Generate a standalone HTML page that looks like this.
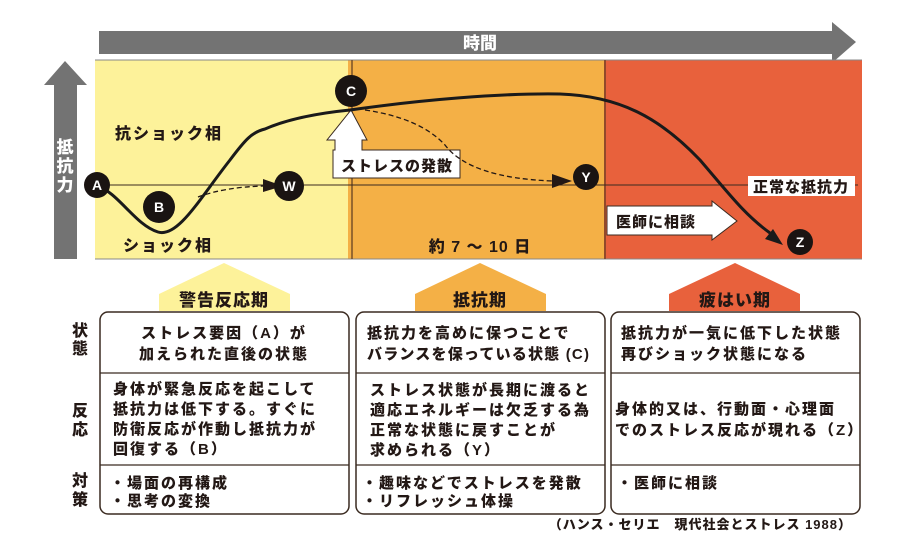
<!DOCTYPE html>
<html><head><meta charset="utf-8"><style>
html,body{margin:0;padding:0;background:#fff;}
svg{display:block;}
text{font-family:"Liberation Sans","Noto Sans CJK JP",sans-serif;font-weight:900;fill:#231815;}
.t{font-size:15px;letter-spacing:2px;}
</style></head><body>
<svg width="907" height="551" viewBox="0 0 907 551" xmlns="http://www.w3.org/2000/svg">
<polygon points="99,31 832,31 832,22 856,42 832,63 832,54 99,54" fill="#737373"/>
<text x="480" y="49" font-size="17" text-anchor="middle" style="fill:#fff">時間</text>
<polygon points="65,61 87,85 77,85 77,259 54,259 54,85 44,85" fill="#737373"/>
<text x="65" y="153" font-size="17" text-anchor="middle" style="fill:#fff">抵</text>
<text x="65" y="172" font-size="17" text-anchor="middle" style="fill:#fff">抗</text>
<text x="65" y="191" font-size="17" text-anchor="middle" style="fill:#fff">力</text>
<rect x="95" y="60" width="253" height="199" fill="#fdf29a"/>
<rect x="348" y="60" width="256" height="199" fill="#f4b046"/>
<rect x="604" y="60" width="258" height="199" fill="#e8613c"/>
<line x1="95" y1="60" x2="862" y2="60" stroke="#888" stroke-width="1"/>
<line x1="95" y1="259" x2="862" y2="259" stroke="#888" stroke-width="1"/>
<line x1="352" y1="60" x2="352" y2="259" stroke="#5a3a20" stroke-width="1.2"/>
<line x1="605" y1="60" x2="605" y2="259" stroke="#5a3a20" stroke-width="1.2"/>
<line x1="97" y1="185" x2="858" y2="185" stroke="#3a2a20" stroke-width="1"/>
<text x="115" y="139" font-size="16" letter-spacing="2">抗ショック相</text>
<text x="123" y="251" font-size="16" letter-spacing="2">ショック相</text>
<text x="480" y="252" font-size="16" text-anchor="middle" letter-spacing="1">約 7 〜 10 日</text>
<rect x="748" y="176" width="107" height="20" fill="#fff"/>
<text x="801" y="192" font-size="15" text-anchor="middle" letter-spacing="1">正常な抵抗力</text>
<polygon points="351,110 367,140 362,140 362,150 460,150 460,178 333,178 333,150 335,150 335,140 327,140" fill="#fff" stroke="#3a2a20" stroke-width="1"/>
<text x="397" y="171" font-size="15" text-anchor="middle" letter-spacing="1">ストレスの発散</text>
<polygon points="607,206 712,206 712,201 737,221 712,240 712,235 607,235" fill="#fff" stroke="#3a2a20" stroke-width="1"/>
<text x="616" y="227" font-size="15" letter-spacing="1">医師に相談</text>
<path d="M198,197 Q225,187 264,186" fill="none" stroke="#231815" stroke-width="1.3" stroke-dasharray="5,3"/>
<polygon points="263,179 283,186 263,192" fill="#231815"/>
<path d="M365,110 Q420,118 445,145 Q470,178 553,181" fill="none" stroke="#231815" stroke-width="1.3" stroke-dasharray="5,3"/>
<polygon points="552,174 572,181 552,188" fill="#231815"/>
<path d="M97,186 C118,192 135,225 158,232 C178,238 200,198 230,160 C245,140 252,132 265,129 C290,118 320,113 350,110 C420,100 500,93 560,94 C620,96 660,118 700,160 C730,195 745,215 770,233" fill="none" stroke="#1a1a1a" stroke-width="3"/>
<polygon points="783,245 765,239 773,229" fill="#1a1a1a"/>
<g font-size="14" text-anchor="middle">
<circle cx="97" cy="185" r="13" fill="#1a1412"/><text x="97" y="190" style="fill:#fff">A</text>
<circle cx="159" cy="207" r="16" fill="#1a1412"/><text x="159" y="212" style="fill:#fff">B</text>
<circle cx="289" cy="186" r="15" fill="#1a1412"/><text x="289" y="191" style="fill:#fff">W</text>
<circle cx="351" cy="91" r="16" fill="#1a1412"/><text x="351" y="96" style="fill:#fff">C</text>
<circle cx="586" cy="177" r="13" fill="#1a1412"/><text x="586" y="182" style="fill:#fff">Y</text>
<circle cx="800" cy="242" r="13" fill="#1a1412"/><text x="800" y="247" style="fill:#fff">Z</text>
</g>
<polygon points="159,311 159,294 224,263 290,294 290,311" fill="#fdf29a"/>
<text x="224" y="306" font-size="17" text-anchor="middle" letter-spacing="1">警告反応期</text>
<polygon points="415,311 415,294 480,263 546,294 546,311" fill="#f4b046"/>
<text x="480" y="306" font-size="17" text-anchor="middle" letter-spacing="1">抵抗期</text>
<polygon points="669,311 669,294 735,263 800,294 800,311" fill="#e8613c"/>
<text x="735" y="306" font-size="17" text-anchor="middle" letter-spacing="1">疲はい期</text>
<g fill="#fff" stroke="#3a2a20" stroke-width="1.5">
<rect x="100" y="312" width="249" height="202" rx="8"/>
<rect x="356" y="312" width="249" height="202" rx="8"/>
<rect x="611" y="312" width="249" height="202" rx="8"/>
</g>
<g stroke="#3a2a20" stroke-width="1.3">
<line x1="100" y1="373" x2="349" y2="373"/><line x1="100" y1="465" x2="349" y2="465"/>
<line x1="356" y1="373" x2="605" y2="373"/><line x1="356" y1="465" x2="605" y2="465"/>
<line x1="611" y1="373" x2="860" y2="373"/><line x1="611" y1="465" x2="860" y2="465"/>
</g>
<g font-size="16" text-anchor="middle">
<text x="80" y="336">状</text><text x="80" y="354">態</text>
<text x="80" y="416">反</text><text x="80" y="435">応</text>
<text x="80" y="486">対</text><text x="80" y="505">策</text>
</g>
<text class="t" x="224" y="338" text-anchor="middle">ストレス要因（A）が</text>
<text class="t" x="224" y="359" text-anchor="middle">加えられた直後の状態</text>
<text class="t" x="113" y="394">身体が緊急反応を起こして</text>
<text class="t" x="113" y="414">抵抗力は低下する。すぐに</text>
<text class="t" x="113" y="434">防衛反応が作動し抵抗力が</text>
<text class="t" x="113" y="454">回復する（B）</text>
<text class="t" x="110" y="488">・場面の再構成</text>
<text class="t" x="110" y="506">・思考の変換</text>
<text class="t" x="367" y="338">抵抗力を高めに保つことで</text>
<text class="t" x="367" y="359" style="letter-spacing:1.2px">バランスを保っている状態 (C)</text>
<text class="t" x="370" y="395">ストレス状態が長期に渡ると</text>
<text class="t" x="370" y="415">適応エネルギーは欠乏する為</text>
<text class="t" x="370" y="435">正常な状態に戻すことが</text>
<text class="t" x="370" y="455">求められる（Y）</text>
<text class="t" x="362" y="488">・趣味などでストレスを発散</text>
<text class="t" x="362" y="506">・リフレッシュ体操</text>
<text class="t" x="621" y="338">抵抗力が一気に低下した状態</text>
<text class="t" x="621" y="359">再びショック状態になる</text>
<text class="t" x="615" y="414">身体的又は、行動面・心理面</text>
<text class="t" x="615" y="435">でのストレス反応が現れる（Z）</text>
<text class="t" x="617" y="488">・医師に相談</text>
<text x="852" y="529" font-size="13" text-anchor="end" letter-spacing="1">（ハンス・セリエ　現代社会とストレス 1988）</text>
</svg>
</body></html>
